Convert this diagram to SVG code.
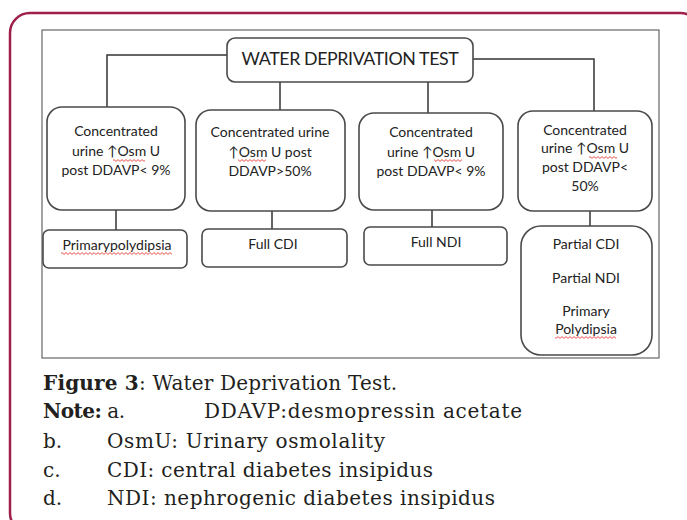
<svg xmlns="http://www.w3.org/2000/svg" width="687" height="520" viewBox="0 0 687 520">
<defs>
<pattern id="sq" width="4" height="3" patternUnits="userSpaceOnUse"><path d="M0 2.4 L2 0.6 L4 2.4" stroke="#e02424" fill="none" stroke-width="0.8"/></pattern>
<style>
.box{fill:#fff;stroke:#4a4a4a;stroke-width:1.6}
.lbl{font-family:Lato,"Liberation Sans",sans-serif;font-size:14px;fill:#222;text-anchor:middle}
.ttl{font-family:Lato,"Liberation Sans",sans-serif;font-size:17.8px;fill:#222;text-anchor:middle;letter-spacing:-0.4px}
.cap{font-family:"DejaVu Serif","Liberation Serif",serif;font-size:20px;fill:#231f20}
.conn{fill:none;stroke:#333;stroke-width:1.5}
.sq{fill:url(#sq)}
</style>
</defs>
<rect width="687" height="520" fill="#fff"/>
<rect x="10" y="13" width="690" height="520" rx="20" fill="none" stroke="#9e1f4a" stroke-width="2.5"/>
<rect x="42" y="30" width="617" height="328" fill="#fff" stroke="#666" stroke-width="1.2"/>

<g id="connectors">
<path class="conn" d="M227 55 H107 V107"/>
<path class="conn" d="M473 59 H594 V111"/>
<path class="conn" d="M280 82 V110"/>
<path class="conn" d="M428 82 V113"/>
<path class="conn" d="M116 210 V230"/>
<path class="conn" d="M272 211 V229"/>
<path class="conn" d="M432 210 V227"/>
<path class="conn" d="M590 211 V226"/>
</g>

<g id="title">
<rect class="box" x="227" y="38" width="246" height="44" rx="8"/>
<text class="ttl" x="350" y="65">WATER DEPRIVATION TEST</text>
</g>

<g id="box1">
<rect class="box" x="47" y="107" width="138" height="103" rx="15"/>
<text class="lbl" x="116" y="136">Concentrated</text>
<text class="lbl" x="116" y="156">urine ↑Osm U</text>
<text class="lbl" x="116" y="175">post DDAVP&lt; 9%</text>
<rect class="sq" x="113" y="159" width="32" height="3"/>
</g>

<g id="box2">
<rect class="box" x="196" y="110" width="149" height="101" rx="15"/>
<text class="lbl" x="270" y="137">Concentrated urine</text>
<text class="lbl" x="270" y="157">↑Osm U post</text>
<text class="lbl" x="270" y="176">DDAVP&gt;50%</text>
<rect class="sq" x="238" y="159" width="28" height="3"/>
</g>

<g id="box3">
<rect class="box" x="359" y="113" width="144" height="97" rx="15"/>
<text class="lbl" x="431" y="137">Concentrated</text>
<text class="lbl" x="431" y="157">urine ↑Osm U</text>
<text class="lbl" x="431" y="176">post DDAVP&lt; 9%</text>
<rect class="sq" x="434" y="159" width="28" height="3"/>
</g>

<g id="box4">
<rect class="box" x="518" y="111" width="134" height="100" rx="15"/>
<text class="lbl" x="585" y="135">Concentrated</text>
<text class="lbl" x="585" y="153">urine ↑Osm U</text>
<text class="lbl" x="585" y="172">post DDAVP&lt;</text>
<text class="lbl" x="585" y="191">50%</text>
<rect class="sq" x="589" y="156" width="28" height="3"/>
</g>

<g id="res1">
<rect class="box" x="43" y="230" width="144" height="38" rx="6"/>
<text class="lbl" x="117" y="250">Primarypolydipsia</text>
<rect class="sq" x="61" y="252" width="111" height="3"/>
</g>

<g id="res2">
<rect class="box" x="202" y="229" width="145" height="38" rx="6"/>
<text class="lbl" x="273" y="249">Full CDI</text>
</g>

<g id="res3">
<rect class="box" x="364" y="227" width="143" height="38" rx="6"/>
<text class="lbl" x="436" y="247">Full NDI</text>
</g>

<g id="res4">
<rect class="box" x="521" y="226" width="131" height="129" rx="20"/>
<text class="lbl" x="586" y="249">Partial CDI</text>
<text class="lbl" x="586" y="283">Partial NDI</text>
<text class="lbl" x="586" y="316">Primary</text>
<text class="lbl" x="586" y="334">Polydipsia</text>
<rect class="sq" x="555" y="336" width="61" height="3"/>
</g>

<g id="caption">
<text class="cap" x="43" y="390" textLength="354"><tspan font-weight="bold">Figure 3</tspan>: Water Deprivation Test.</text>
<text class="cap" x="43" y="418" textLength="82"><tspan font-weight="bold">Note:</tspan> a.</text>
<text class="cap" x="204" y="418" textLength="318">DDAVP:desmopressin acetate</text>
<text class="cap" x="43" y="448">b.</text>
<text class="cap" x="107" y="448" textLength="278">OsmU: Urinary osmolality</text>
<text class="cap" x="43" y="477">c.</text>
<text class="cap" x="107" y="477" textLength="326">CDI: central diabetes insipidus</text>
<text class="cap" x="43" y="505">d.</text>
<text class="cap" x="107" y="505" textLength="388">NDI: nephrogenic diabetes insipidus</text>
</g>
</svg>
